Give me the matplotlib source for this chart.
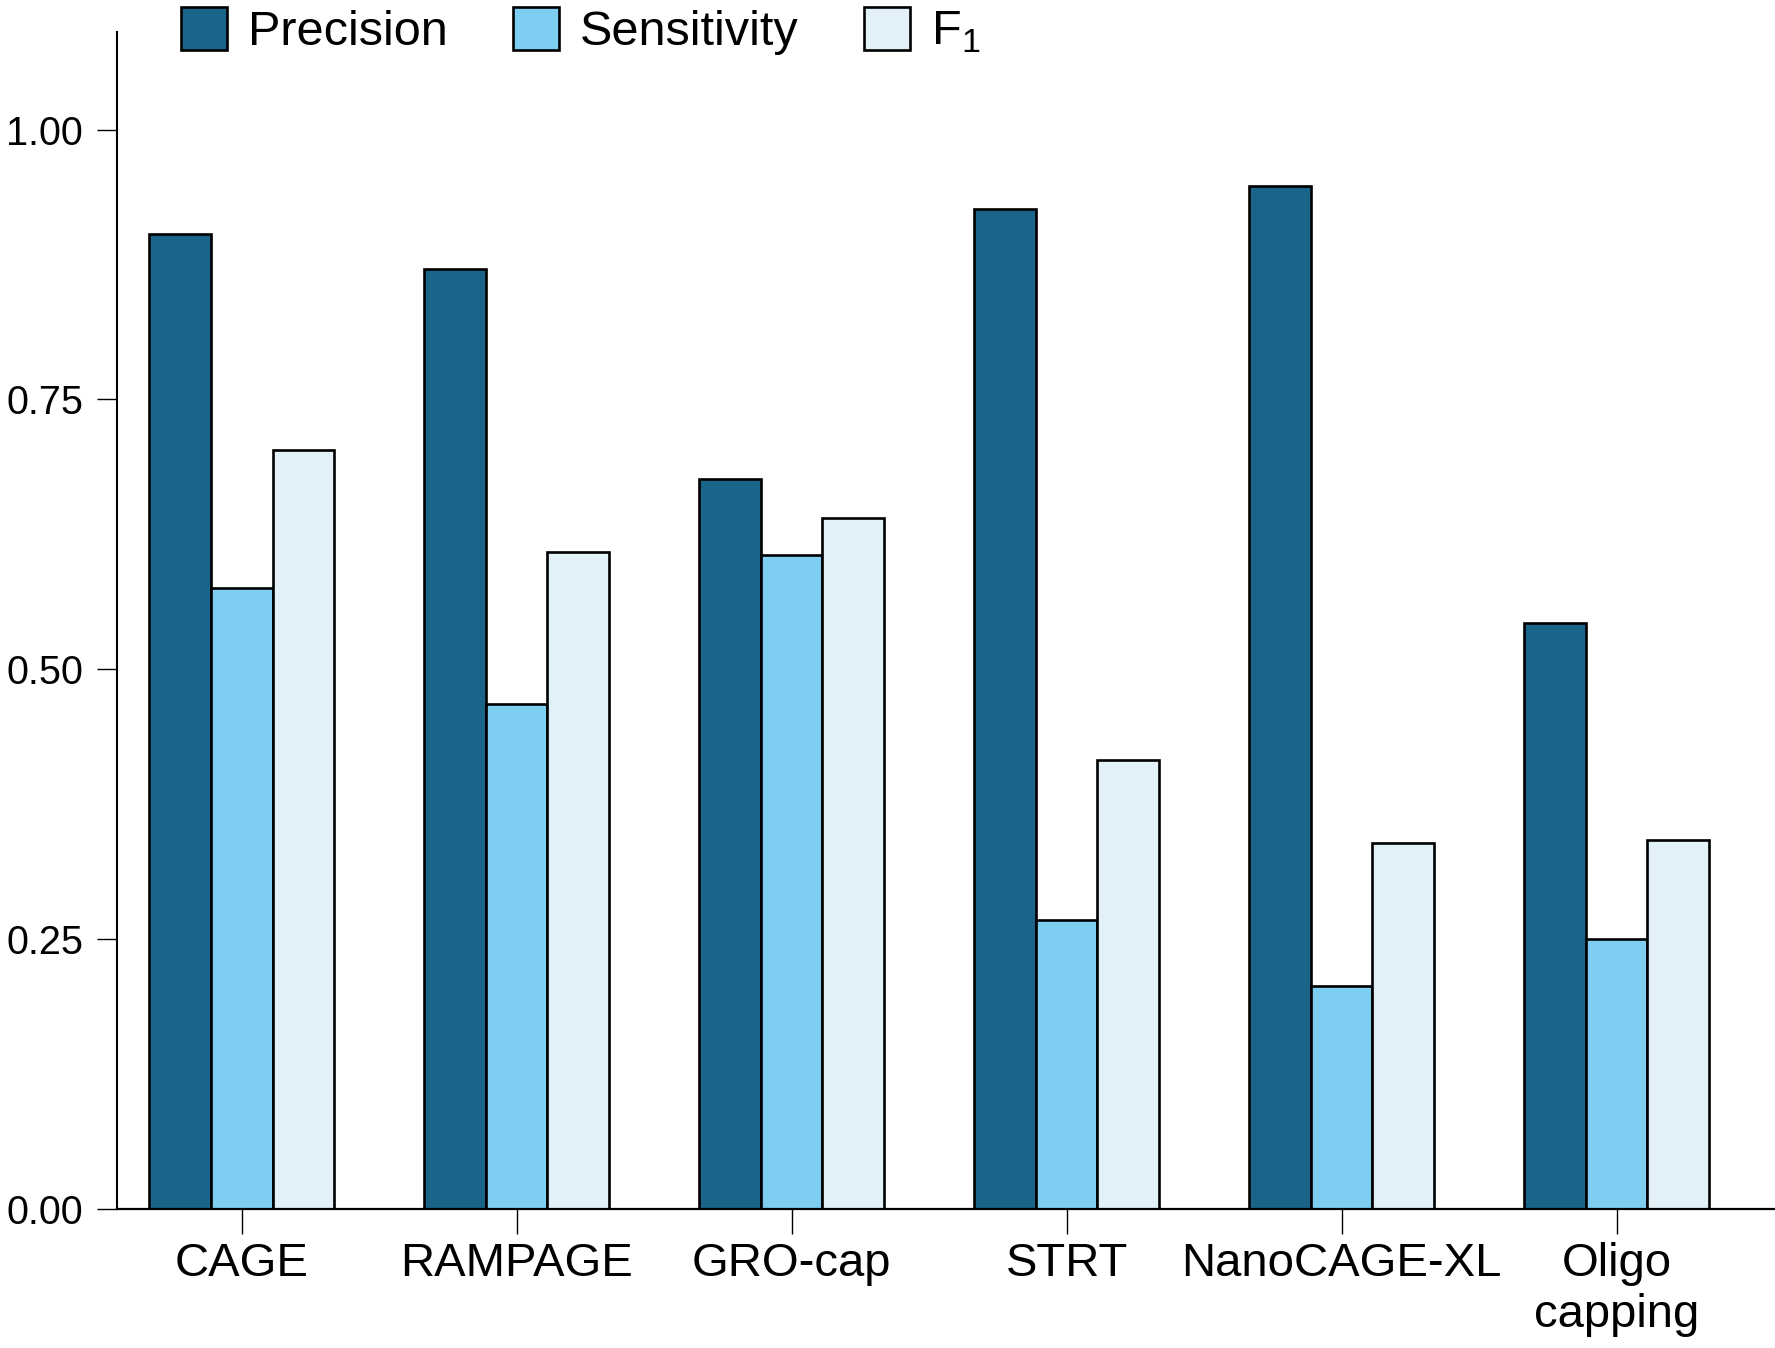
import numpy as np
import matplotlib
matplotlib.use("Agg")
import matplotlib.pyplot as plt

plt.rcParams['font.family'] = ['Liberation Sans', 'DejaVu Sans']

# Datos
methods = ["CAGE", "RAMPAGE", "GRO-cap", "STRT", "NanoCAGE-XL", "Oligo\ncapping"]
precision = [0.903, 0.871, 0.676, 0.926, 0.948, 0.543]
sensitivity = [0.575, 0.468, 0.606, 0.268, 0.207, 0.250]
f1 = [0.703, 0.609, 0.640, 0.416, 0.339, 0.342]

series_names = ["Precision", "Sensitivity", r"F$_\mathregular{1}$"]
colors = ["#1a6389", "#7ecef2", "#e2f1f8"]

fig = plt.figure(figsize=(17.75, 13.48), dpi=100)
ax = fig.add_axes([0.066, 0.103, 0.934, 0.873])

x = np.arange(len(methods))
w = 0.224
for k, vals in enumerate([precision, sensitivity, f1]):
    ax.bar(x + (k - 1) * w, vals, width=w, color=colors[k], edgecolor="black",
           linewidth=1.9, label=series_names[k], zorder=2)

ax.set_xlim(-0.453, 5.576)
ax.set_ylim(0, 1.09)
ax.set_xticks(x)
ax.set_xticklabels(methods, fontsize=34)
ax.set_yticks([0, 0.25, 0.5, 0.75, 1.0])
ax.set_yticklabels(["0.00", "0.25", "0.50", "0.75", "1.00"], fontsize=28.5)

ax.spines['top'].set_visible(False)
ax.spines['right'].set_visible(False)
ax.spines['left'].set_linewidth(1.5)
ax.spines['bottom'].set_linewidth(1.6)
ax.tick_params(axis='x', length=18, width=1.0, pad=6)
ax.tick_params(axis='y', length=14.5, width=1.0, pad=10)

fig.legend(loc='upper left', bbox_to_anchor=(0.102, 0.995), ncol=3, frameon=False,
           fontsize=35, handlelength=0.95, handleheight=1.0, handletextpad=0.42,
           columnspacing=1.35, borderpad=0, borderaxespad=0)

fig.savefig("out.png", dpi=100)
